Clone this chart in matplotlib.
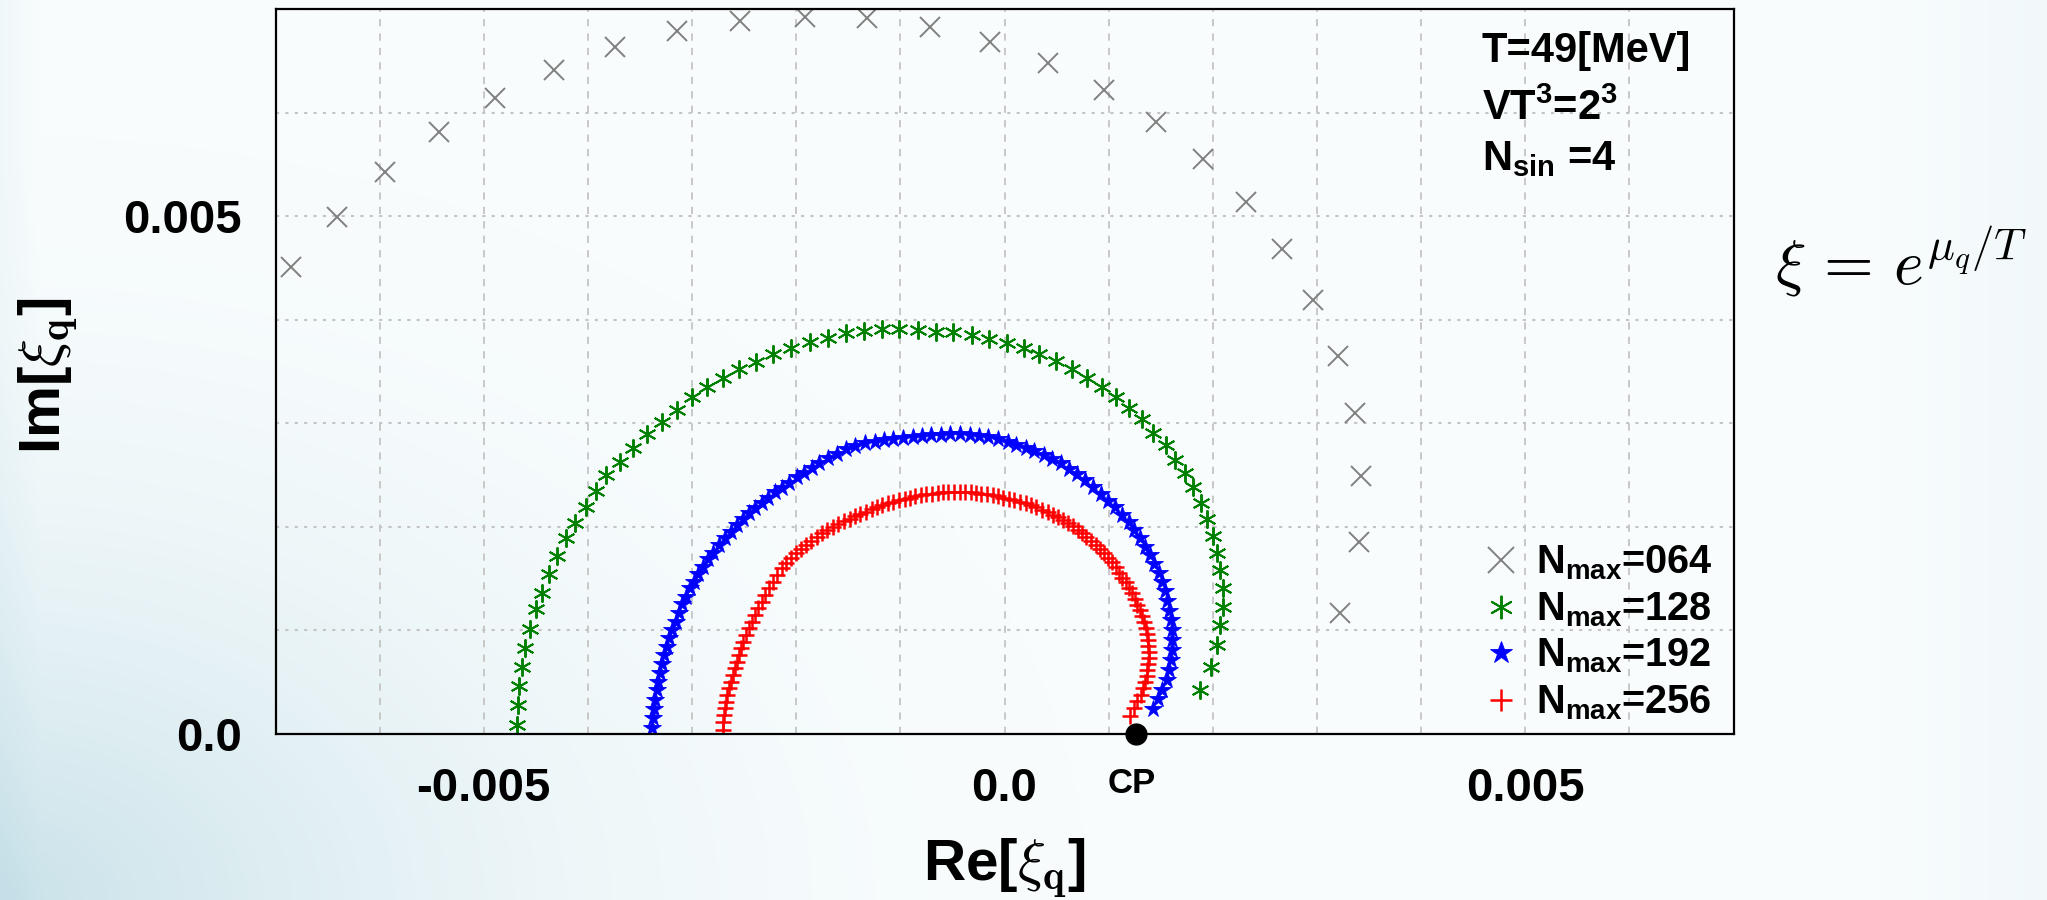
import numpy as np
import matplotlib.pyplot as plt
from matplotlib.ticker import MultipleLocator, FixedLocator

plt.rcParams['font.family'] = ['Liberation Sans', 'DejaVu Sans']
plt.rcParams['font.weight'] = 'bold'
plt.rcParams['mathtext.fontset'] = 'custom'
plt.rcParams['mathtext.rm'] = 'Liberation Sans:bold'
plt.rcParams['mathtext.it'] = 'Liberation Sans:bold'
plt.rcParams['mathtext.bf'] = 'Liberation Sans:bold'

# Lee-Yang zeros in the complex xi plane (units of 1e-3)
re_064 = [-6.853, -6.413, -5.947, -5.432, -4.893, -4.324, -3.742, -3.142, -2.536, -1.918,
          -1.317, -0.711, -0.141, 0.419, 0.951, 1.451, 1.906, 2.316, 2.669, 2.964,
          3.201, 3.362, 3.425, 3.400, 3.221]
im_064 = [4.512, 4.995, 5.423, 5.810, 6.138, 6.411, 6.633, 6.791, 6.887, 6.926,
          6.910, 6.823, 6.679, 6.476, 6.218, 5.906, 5.549, 5.137, 4.683, 4.193,
          3.653, 3.096, 2.491, 1.857, 1.165]

re_128 = [-4.678, -4.672, -4.659, -4.630, -4.602, -4.554, -4.496, -4.441, -4.371, -4.297,
          -4.211, -4.121, -4.021, -3.923, -3.822, -3.692, -3.567, -3.433, -3.292, -3.148,
          -3.004, -2.854, -2.706, -2.547, -2.386, -2.220, -2.053, -1.868, -1.692, -1.522,
          -1.349, -1.179, -1.010, -0.828, -0.658, -0.492, -0.315, -0.146, 0.021, 0.187,
          0.334, 0.495, 0.651, 0.789, 0.939, 1.071, 1.198, 1.317, 1.429, 1.548,
          1.637, 1.733, 1.813, 1.887, 1.942, 1.999, 2.043, 2.069, 2.095, 2.095,
          2.069, 2.038, 1.983, 1.877]
im_128 = [0.087, 0.280, 0.466, 0.644, 0.830, 1.017, 1.204, 1.364, 1.542, 1.719,
          1.890, 2.040, 2.189, 2.349, 2.501, 2.629, 2.761, 2.892, 3.011, 3.128,
          3.251, 3.348, 3.434, 3.521, 3.595, 3.669, 3.724, 3.788, 3.821, 3.869,
          3.894, 3.908, 3.910, 3.901, 3.884, 3.877, 3.852, 3.814, 3.778, 3.724,
          3.669, 3.601, 3.524, 3.434, 3.348, 3.251, 3.145, 3.039, 2.909, 2.790,
          2.650, 2.520, 2.382, 2.230, 2.073, 1.912, 1.745, 1.583, 1.407, 1.229,
          1.052, 0.859, 0.650, 0.425]

re_192 = [-3.382, -3.372, -3.363, -3.353, -3.340, -3.327, -3.308, -3.292, -3.267, -3.244,
          -3.219, -3.190, -3.157, -3.126, -3.094, -3.059, -3.020, -2.982, -2.940, -2.892,
          -2.844, -2.796, -2.742, -2.684, -2.629, -2.572, -2.514, -2.454, -2.396, -2.332,
          -2.268, -2.204, -2.139, -2.066, -1.995, -1.922, -1.851, -1.781, -1.695, -1.608,
          -1.522, -1.431, -1.340, -1.248, -1.157, -1.066, -0.975, -0.883, -0.792, -0.701,
          -0.610, -0.519, -0.427, -0.336, -0.245, -0.154, -0.062, 0.029, 0.115, 0.202,
          0.288, 0.375, 0.456, 0.538, 0.619, 0.696, 0.773, 0.850, 0.922, 0.994,
          1.061, 1.128, 1.191, 1.248, 1.301, 1.349, 1.397, 1.440, 1.479, 1.512,
          1.541, 1.565, 1.584, 1.599, 1.608, 1.613, 1.608, 1.599, 1.580, 1.556,
          1.517, 1.474, 1.426]
im_192 = [0.055, 0.152, 0.238, 0.328, 0.425, 0.505, 0.592, 0.673, 0.763, 0.843,
          0.924, 1.004, 1.084, 1.171, 1.252, 1.326, 1.407, 1.470, 1.545, 1.615,
          1.687, 1.750, 1.825, 1.890, 1.953, 2.018, 2.073, 2.131, 2.185, 2.233,
          2.282, 2.339, 2.378, 2.426, 2.478, 2.523, 2.565, 2.614, 2.665, 2.708,
          2.747, 2.781, 2.805, 2.824, 2.839, 2.850, 2.860, 2.870, 2.877, 2.884,
          2.889, 2.892, 2.892, 2.889, 2.882, 2.868, 2.848, 2.824, 2.795, 2.766,
          2.732, 2.694, 2.655, 2.612, 2.563, 2.510, 2.452, 2.385, 2.317, 2.254,
          2.187, 2.119, 2.047, 1.970, 1.892, 1.810, 1.728, 1.641, 1.555, 1.468,
          1.376, 1.284, 1.192, 1.101, 1.004, 0.908, 0.811, 0.714, 0.618, 0.521,
          0.425, 0.338, 0.241]

re_256 = [-2.706, -2.700, -2.694, -2.684, -2.674, -2.662, -2.645, -2.629, -2.610, -2.591,
          -2.572, -2.552, -2.533, -2.508, -2.482, -2.453, -2.428, -2.396, -2.367, -2.332,
          -2.300, -2.261, -2.226, -2.182, -2.139, -2.098, -2.053, -2.005, -1.957, -1.909,
          -1.861, -1.803, -1.752, -1.700, -1.647, -1.594, -1.541, -1.488, -1.436, -1.383,
          -1.330, -1.277, -1.224, -1.172, -1.119, -1.066, -1.013, -0.960, -0.907, -0.855,
          -0.802, -0.749, -0.696, -0.643, -0.591, -0.538, -0.485, -0.432, -0.379, -0.326,
          -0.274, -0.221, -0.168, -0.115, -0.062, -0.010, 0.043, 0.096, 0.149, 0.202,
          0.254, 0.307, 0.360, 0.413, 0.461, 0.509, 0.557, 0.605, 0.653, 0.701,
          0.744, 0.787, 0.831, 0.874, 0.917, 0.955, 0.994, 1.032, 1.066, 1.099,
          1.133, 1.162, 1.196, 1.224, 1.253, 1.277, 1.301, 1.320, 1.340, 1.354,
          1.366, 1.376, 1.381, 1.383, 1.383, 1.380, 1.373, 1.364, 1.349, 1.330,
          1.306, 1.277, 1.244, 1.205]
im_256 = [0.039, 0.119, 0.183, 0.248, 0.312, 0.377, 0.441, 0.505, 0.570, 0.634,
          0.698, 0.763, 0.827, 0.891, 0.956, 1.021, 1.084, 1.149, 1.214, 1.277,
          1.342, 1.407, 1.470, 1.535, 1.600, 1.648, 1.696, 1.745, 1.783, 1.825,
          1.866, 1.905, 1.936, 1.965, 1.994, 2.023, 2.052, 2.078, 2.103, 2.126,
          2.148, 2.170, 2.190, 2.208, 2.226, 2.242, 2.257, 2.271, 2.283, 2.295,
          2.306, 2.314, 2.322, 2.328, 2.333, 2.336, 2.337, 2.337, 2.335, 2.332,
          2.327, 2.321, 2.313, 2.305, 2.295, 2.283, 2.271, 2.257, 2.242, 2.226,
          2.207, 2.188, 2.167, 2.143, 2.119, 2.093, 2.066, 2.037, 2.006, 1.974,
          1.939, 1.902, 1.863, 1.825, 1.786, 1.743, 1.699, 1.656, 1.608, 1.559,
          1.511, 1.463, 1.410, 1.357, 1.303, 1.250, 1.197, 1.139, 1.081, 1.023,
          0.966, 0.908, 0.850, 0.792, 0.734, 0.676, 0.618, 0.560, 0.502, 0.444,
          0.381, 0.319, 0.251, 0.169]

cp_re = 1.258
labels = ['N$_{max}$=064', 'N$_{max}$=128', 'N$_{max}$=192', 'N$_{max}$=256']

W, H = 2047, 900
fig = plt.figure(figsize=(W / 100, H / 100), dpi=100)

# soft bluish backdrop, darker towards the lower left corner
yy, xx = np.mgrid[0:H, 0:W]
base = np.array([248, 252, 253]) / 255
tint = np.array([196, 223, 231]) / 255
d = np.hypot(xx / W * 1.6, (H - yy) / H)
w = np.clip(1 - d / 0.85, 0, 1) ** 2 * 0.9
w += np.clip((xx - 1880) / 167, 0, 1) * 0.12
w += np.clip((40 - xx) / 40, 0, 1) * 0.15
w = np.clip(w, 0, 1)[..., None]
bg_img = base * (1 - w) + tint * w
bg = fig.add_axes([0, 0, 1, 1], zorder=-10)
bg.imshow(bg_img, aspect='auto', extent=[0, 1, 0, 1], interpolation='bilinear')
bg.axis('off')

def fx(x):
    return x / W

def fy(y):
    return 1 - y / H

ax = fig.add_axes([fx(275.5), fy(734), (1733.5 - 275.5) / W, (734 - 9) / H])
ax.set_facecolor('none')

s = 1e-3
ax.plot(np.array(re_064) * s, np.array(im_064) * s, ls='none', marker='x', ms=14, mew=1.4,
        color='#808080', label=labels[0])
ax.plot(np.array(re_128) * s, np.array(im_128) * s, ls='none', marker=(6, 2, 0), ms=13, mew=1.4,
        color='#008000', label=labels[1])
ax.plot(np.array(re_192) * s, np.array(im_192) * s, ls='none', marker='*', ms=13, mew=0.6,
        color='#0000ff', label=labels[2])
ax.plot(np.array(re_256) * s, np.array(im_256) * s, ls='none', marker='+', ms=12, mew=1.8,
        color='#ff0000', label=labels[3])
ax.plot([cp_re * s], [0], ls='none', marker='o', ms=15, color='black', clip_on=False, zorder=6)

ax.set_xlim(-0.007, 0.007)
ax.set_ylim(0, 0.007)

ax.xaxis.set_major_locator(FixedLocator([-0.005, 0.0, 0.005]))
ax.set_xticklabels(['-0.005', '0.0', '0.005'])
ax.yaxis.set_major_locator(FixedLocator([0.0, 0.005]))
ax.set_yticklabels(['0.0', '0.005'])
ax.xaxis.set_minor_locator(MultipleLocator(0.001))
ax.yaxis.set_minor_locator(MultipleLocator(0.001))
ax.tick_params(which='both', length=0)
ax.tick_params(axis='both', which='major', labelsize=34, pad=24)

ax.set_axisbelow(True)
ax.grid(which='both', axis='x', color='#c4c4c4', ls=(0, (4, 4)), lw=1.3)
ax.grid(which='both', axis='y', color='#c4c4c4', ls=(0, (1.5, 3)), lw=1.5)
for sp in ax.spines.values():
    sp.set_linewidth(1.6)
    sp.set_color('black')

leg = ax.legend(loc='lower right', bbox_to_anchor=((1713 - 275.5) / 1458, 12 / 725),
                frameon=False, fontsize=28.5, markerscale=1.3, handlelength=1.0,
                handletextpad=0.4, labelspacing=0.2, borderpad=0, borderaxespad=0)

fig.text(fx(1132), fy(793), 'CP', fontsize=25, ha='center', va='baseline')

fig.text(fx(1482), fy(62), 'T=49[MeV]', fontsize=30, ha='left', va='baseline')
fig.text(fx(1482), fy(120), 'VT$^3$=2$^3$', fontsize=30, ha='left', va='baseline')
fig.text(fx(1482), fy(170), 'N$_{sin}$ =4', fontsize=30, ha='left', va='baseline')

fig.text(fx(1004), fy(880), r'Re[$\xi_{\mathbf{q}}$]', fontsize=42, ha='center', va='baseline',
         math_fontfamily='cm')
fig.text(fx(48), fy(376), r'Im[$\xi_{\mathbf{q}}$]', fontsize=42, ha='center', va='center',
         rotation=90, math_fontfamily='cm')

fig.text(fx(1775), fy(285), r'$\xi\,=\,e^{\mu_q/T}$', fontsize=46, ha='left', va='baseline',
         fontweight='normal', math_fontfamily='cm')

fig.savefig('out.png', dpi=100)
